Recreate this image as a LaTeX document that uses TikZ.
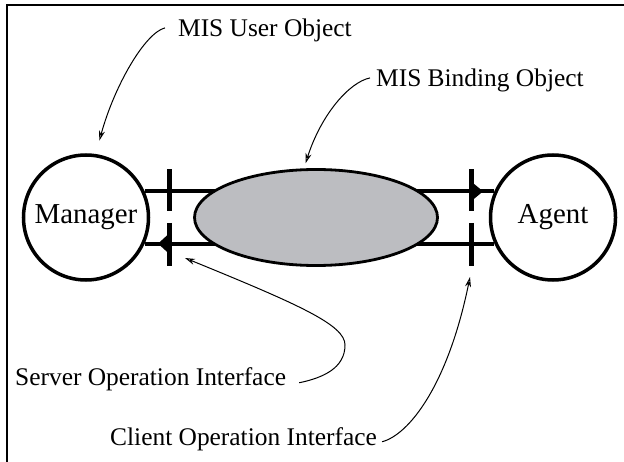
\documentclass[tikz,border=0pt]{standalone}
\usepackage{fontspec}
\setmainfont{Liberation Serif}
\usetikzlibrary{shapes.geometric, arrows.meta, positioning}

\begin{document}
\begin{tikzpicture}[x=1bp, y=-1bp, node distance=230bp]

\definecolor{bindgray}{RGB}{188,189,193}

\tikzstyle{party} = [circle, draw=black, line width=3.5bp, minimum size=125bp, inner sep=0pt, font=\fontsize{29}{34}\selectfont]
\tikzstyle{binding} = [ellipse, draw=black, fill=bindgray, line width=2.8bp, minimum width=243bp, minimum height=96bp, inner sep=0pt]
\tikzstyle{link} = [line width=4bp]
\tikzstyle{bar} = [line width=5bp]
\tikzstyle{note} = [inner sep=0pt, anchor=base west, font=\fontsize{25.5}{30}\selectfont]
\tikzstyle{pointer} = [-{Stealth[open, length=10bp, width=6bp]}, line width=1bp]

\useasboundingbox (0,0) rectangle (624,462);
\draw[line width=1.5bp] (7,462) |- (624,5);

\node[party] (Manager) at (86,217.5) {Manager};
\node[party, node distance=467bp, right of=Manager] (Agent) {Agent};

\draw[link] (Manager.24) -- (Agent.156);
\draw[link] (Manager.-24) -- (Agent.-156);

\node[binding, node distance=230bp, right of=Manager] (Binding) {};

% interfaces
\coordinate[node distance=83bp, right of=Manager] (lbar);
\coordinate[node distance=82bp, left of=Agent] (rbar);

\draw[bar] (lbar) ++(0,-6.5) -- ++(0,-42) (lbar) ++(0,5.5) -- ++(0,43);
\draw[bar] (rbar) ++(0,-6.5) -- ++(0,-42) (rbar) ++(0,5.5) -- ++(0,43);

\fill (rbar |- Agent.156) ++(0,-10) -- ++(12,10) -- ++(-12,10) -- cycle;
\fill (lbar |- Manager.-24) ++(0,-10) -- ++(-11,10) -- ++(11,10) -- cycle;

% labels
\node[note] (userlbl) at (178,37) {MIS User Object};
\node[note] (bindlbl) at (376,87) {MIS Binding Object};
\node[note] (srvlbl) at (15,385) {Server Operation Interface};
\node[note] (clilbl) at (110,445) {Client Operation Interface};

\coordinate (srvtip) at (185,258);
\coordinate (clitip) at (470,277);

\draw[pointer] ([xshift=-13bp, yshift=3bp]userlbl.west) .. controls +(-20,5) and +(15,-55) .. ([yshift=14bp]Manager.78);
\draw[pointer] ([xshift=-6bp, yshift=3bp]bindlbl.west) .. controls +(-20,4) and +(16,-50) .. ([yshift=5bp]Binding.102);
\draw[pointer] ([xshift=13bp, yshift=-4bp]srvlbl.east) .. controls +(24,-5) and +(0,23) .. (345,345) .. controls +(0,-20) and +(115,47) .. (srvtip);
\draw[pointer] ([xshift=5bp, yshift=-3bp]clilbl.east) .. controls +(27,-7) and +(-22,108) .. (clitip);

\end{tikzpicture}
\end{document}
